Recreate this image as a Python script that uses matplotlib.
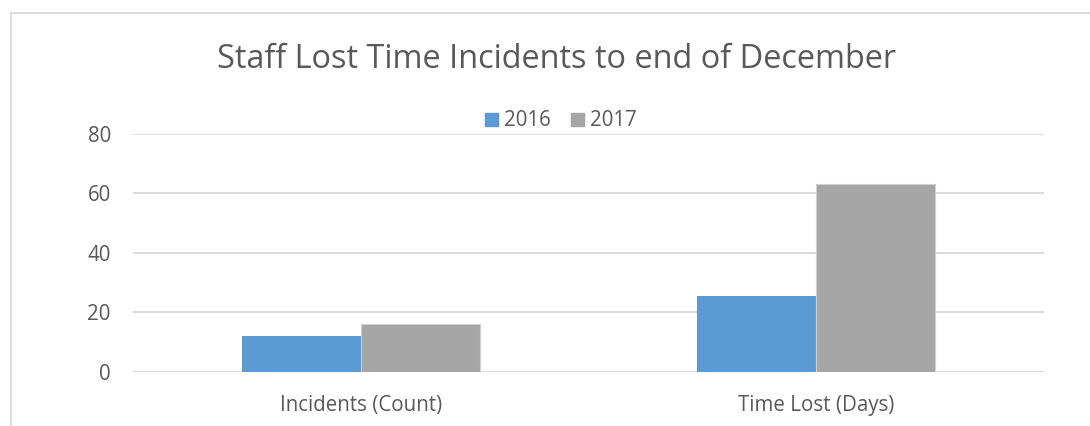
import numpy as np
import matplotlib
matplotlib.use("Agg")
import matplotlib.pyplot as plt
from matplotlib.lines import Line2D
from matplotlib.patches import Patch

categories = ["Incidents (Count)", "Time Lost (Days)"]
series_names = ["2016", "2017"]
vals_2016 = [12, 25.4]
vals_2017 = [16, 63.3]
yticks = [0, 20, 40, 60, 80]

blue = "#5B9BD5"
grey = "#A5A5A5"
txt = "#595959"
grid = "#D9D9D9"

plt.rcParams['font.family'] = ['Open Sans', 'DejaVu Sans']

fig = plt.figure(figsize=(10.9, 4.26), dpi=100)
ax = fig.add_axes([133/1090, 1 - 371.7/426, (1044 - 133)/1090, (371.7 - 134)/426])

x = np.arange(len(categories))
w = 0.261
ax.bar(x - w/2, vals_2016, w, color=blue, label=series_names[0], zorder=3)
ax.bar(x + w/2, vals_2017, w, color=grey, label=series_names[1], zorder=3,
       edgecolor="#d0d0d0", linewidth=0.8)

ax.set_xlim(-0.5, 1.5)
ax.set_ylim(0, 80)
ax.set_yticks(yticks)
ax.set_xticks(x)
ax.set_xticklabels(categories)
ax.yaxis.grid(True, color=grid, linewidth=1.3, zorder=0)
for s in ax.spines.values():
    s.set_visible(False)
ax.tick_params(axis='both', length=0, colors=txt, labelsize=14.8)
ax.tick_params(axis='y', pad=16)
ax.tick_params(axis='x', pad=17)

# chart frame (cut at right and bottom)
fig.add_artist(Line2D([11/1090, 11/1090], [0, 1 - 13/426], color=grid, lw=1.3, transform=fig.transFigure))
fig.add_artist(Line2D([11/1090, 1], [1 - 13/426, 1 - 13/426], color=grid, lw=1.3, transform=fig.transFigure))

fig.text(557/1090, 1 - 60/426, "Staff Lost Time Incidents to end of December",
         ha="center", va="center", fontsize=23.4, color=txt)

handles = [Patch(color=blue), Patch(color=grey)]
fig.legend(handles, series_names, loc="center", bbox_to_anchor=(561/1090, 1 - 121/426),
           ncol=2, frameon=False, fontsize=14.8, labelcolor=txt,
           handlelength=0.6, handleheight=0.6, handletextpad=0.3, columnspacing=1.0)

fig.savefig("out.png", dpi=100)
